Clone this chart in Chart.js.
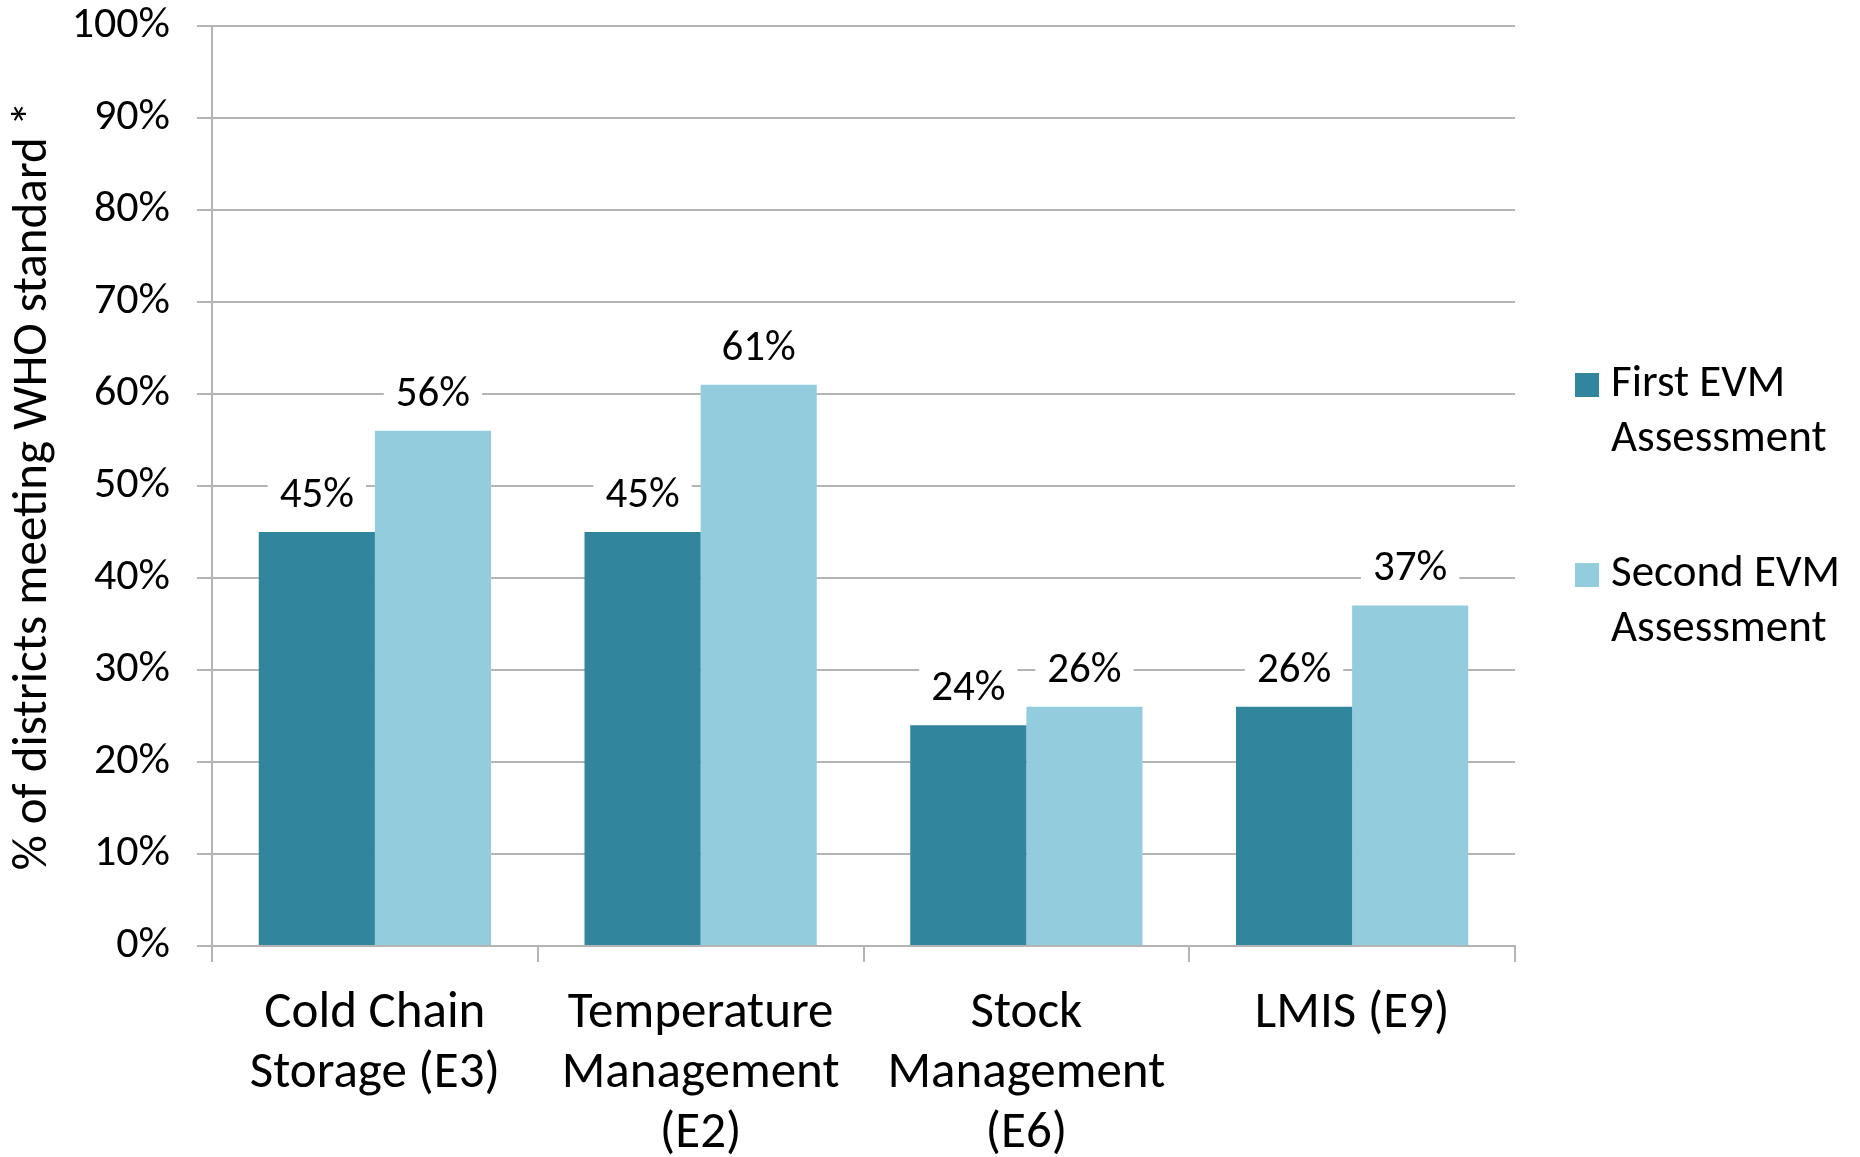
<!DOCTYPE html>
<html>
<head>
<meta charset="utf-8">
<script src="https://cdn.jsdelivr.net/npm/chart.js@4.4.1/dist/chart.umd.min.js"></script>
<style>
  html, body { margin: 0; padding: 0; background: #fff; }
</style>
</head>
<body>
<canvas id="chart" width="1860" height="1157"></canvas>
<script>
// data
var categories = [
  ['Cold Chain', 'Storage (E3)'],
  ['Temperature', 'Management', '(E2)'],
  ['Stock', 'Management', '(E6)'],
  ['LMIS (E9)']
];
var firstEVM = [45, 45, 24, 26];
var secondEVM = [56, 61, 26, 37];
var seriesNames = [['First EVM', 'Assessment'], ['Second EVM', 'Assessment']];
var yTitle = '% of districts meeting WHO standard *';

var FONT = 'Carlito, Lato, sans-serif';
var darkTeal = '#31859C';
var lightTeal = '#93CDDD';
var gridGray = '#b4b4b4';

// value labels with a white box behind them (they cut the gridlines)
var valueLabels = {
  id: 'valueLabels',
  afterDatasetsDraw: function (chart) {
    var ctx = chart.ctx;
    ctx.save();
    ctx.font = '43px ' + FONT;
    ctx.textAlign = 'center';
    ctx.textBaseline = 'middle';
    chart.data.datasets.forEach(function (ds, i) {
      var meta = chart.getDatasetMeta(i);
      meta.data.forEach(function (bar, j) {
        var txt = ds.data[j] + '%';
        var w = ctx.measureText(txt).width;
        var cy = bar.y - 36;
        ctx.fillStyle = '#fff';
        ctx.fillRect(bar.x - w / 2 - 12, cy - 21, w + 24, 42);
        ctx.fillStyle = '#000';
        ctx.fillText(txt, bar.x, cy);
      });
    });
    ctx.restore();
  }
};

// legend on the right, two-line labels
var sideLegend = {
  id: 'sideLegend',
  afterDraw: function (chart) {
    var ctx = chart.ctx;
    var x = chart.chartArea.right + 60;
    var tops = [385, 575];
    ctx.save();
    ctx.font = '45px ' + FONT;
    ctx.textAlign = 'left';
    ctx.textBaseline = 'middle';
    chart.data.datasets.forEach(function (ds, i) {
      ctx.fillStyle = ds.backgroundColor;
      ctx.fillRect(x, tops[i] - 12, 24, 24);
      ctx.fillStyle = '#000';
      seriesNames[i].forEach(function (line, k) {
        ctx.fillText(line, x + 36, tops[i] + k * 55);
      });
    });
    ctx.restore();
  }
};

new Chart(document.getElementById('chart'), {
  type: 'bar',
  data: {
    labels: categories,
    datasets: [
      { label: 'First EVM Assessment', data: firstEVM, backgroundColor: darkTeal,
        categoryPercentage: 0.713, barPercentage: 1.0 },
      { label: 'Second EVM Assessment', data: secondEVM, backgroundColor: lightTeal,
        categoryPercentage: 0.713, barPercentage: 1.0 }
    ]
  },
  options: {
    responsive: false,
    devicePixelRatio: 1,
    animation: false,
    layout: { padding: { left: 0, top: 26, right: 345, bottom: 0 } },
    plugins: {
      legend: { display: false },
      tooltip: { enabled: false }
    },
    scales: {
      x: {
        grid: { display: true, drawOnChartArea: false, drawTicks: true, offset: true,
                tickLength: 16, color: gridGray, lineWidth: 2 },
        border: { display: true, color: gridGray, width: 2 },
        ticks: { color: '#000', font: { family: FONT, size: 51, lineHeight: 1.176 },
                 padding: 22, maxRotation: 0, autoSkip: false },
        afterFit: function (s) { s.height = 211; }
      },
      y: {
        min: 0,
        max: 100,
        grid: { color: gridGray, lineWidth: 2, tickLength: 15 },
        border: { display: true, color: gridGray, width: 2 },
        ticks: { stepSize: 10, color: '#000', padding: 27,
                 font: { family: FONT, size: 44 },
                 callback: function (v) { return v + '%'; } },
        title: { display: true, text: yTitle, color: '#000',
                 font: { family: FONT, size: 49, lineHeight: 1.2 },
                 padding: { top: 4, bottom: 0 } },
        afterFit: function (s) {
          s.width = 212;
          // tick padding would otherwise push the plot top down
          s.paddingTop = 0;
          s.paddingBottom = 0;
        }
      }
    }
  },
  plugins: [valueLabels, sideLegend]
});
</script>
</body>
</html>
